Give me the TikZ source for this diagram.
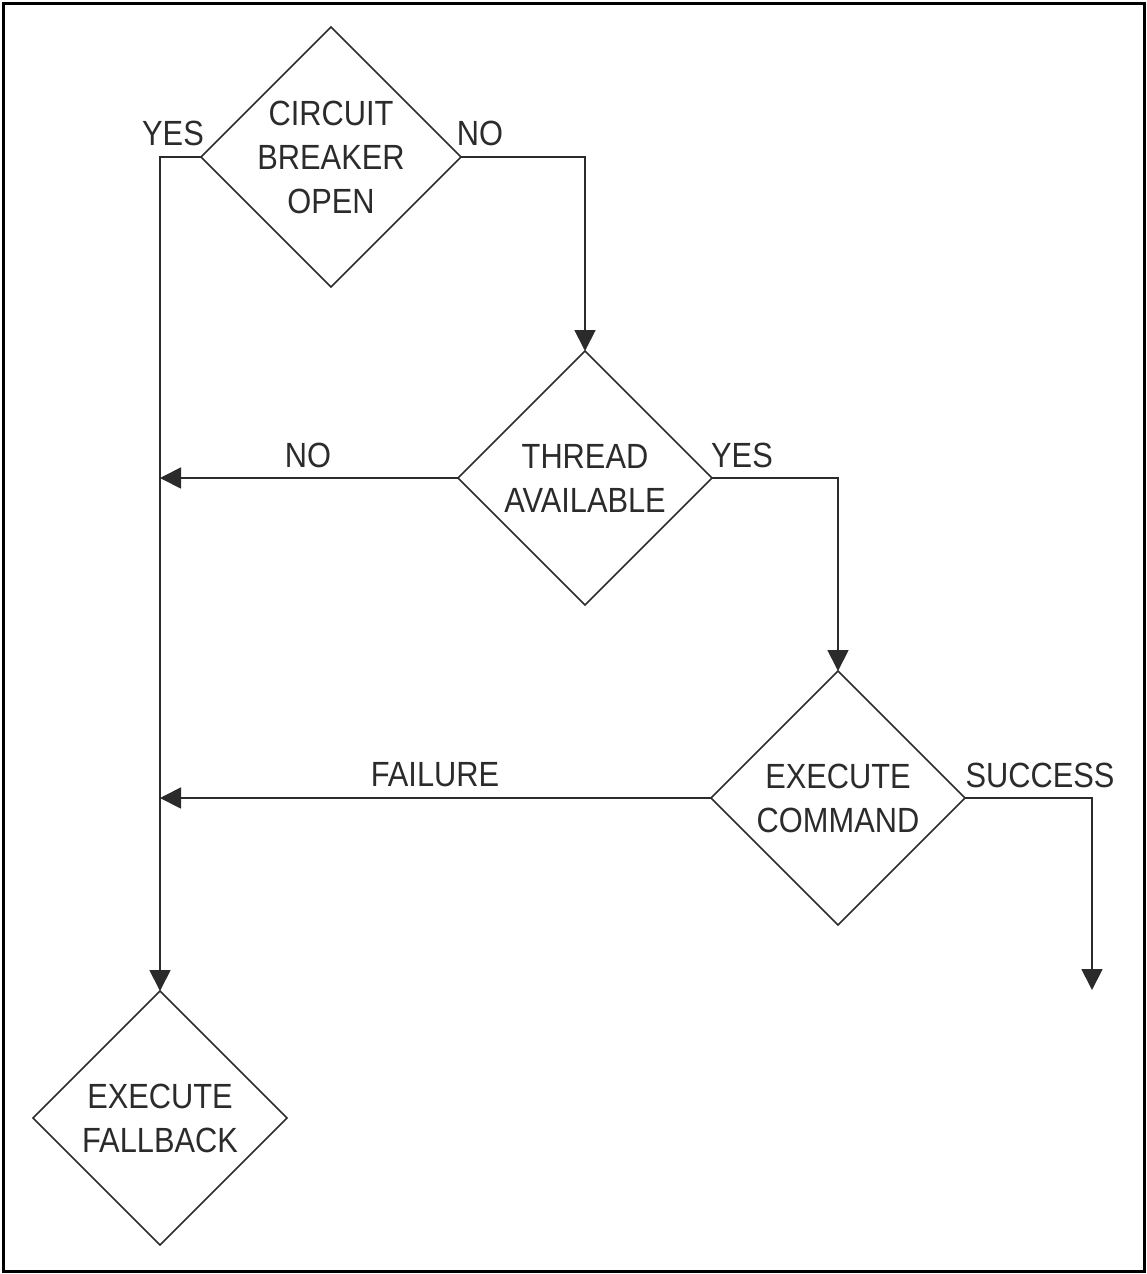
\documentclass[tikz,border=0pt]{standalone}
\usepackage{fontspec}
\setmainfont{Liberation Sans}[FakeStretch=0.88]
\usetikzlibrary{shapes.geometric,arrows.meta}
\definecolor{ink}{HTML}{2B2B2B}
\tikzset{
  decision/.style={diamond, aspect=1, draw=ink, line width=1.6pt, inner sep=0pt, outer sep=0pt,
    minimum width=254pt, minimum height=254pt, text=ink, align=center,
    font=\fontsize{35}{44}\selectfont},
  lbl/.style={text=ink, inner sep=0pt, font=\fontsize{35}{44}\selectfont},
  arr/.style={draw=ink, line width=1.8pt, -{Triangle[length=21pt,width=21pt]}},
  plain/.style={draw=ink, line width=1.8pt}
}
\begin{document}
\begin{tikzpicture}[x=1pt,y=-1pt]
\useasboundingbox (0,0) rectangle (1147,1274);
\draw[line width=3pt, black] (3,3) rectangle (1144,1271);

\node[decision] (d1) at (331,157) {CIRCUIT\\BREAKER\\OPEN};
\node[decision] (d2) at (585,478) {THREAD\\AVAILABLE};
\node[decision] (d3) at (838,798) {EXECUTE\\COMMAND};
\node[decision] (d4) at (160,1118) {EXECUTE\\FALLBACK};

\coordinate (send) at (1092,990);

\node[lbl] (l1) at (173,133) {YES};
\node[lbl] (l2) at (480,133) {NO};
\node[lbl] (l3) at (308,455) {NO};
\node[lbl] (l4) at (742,455) {YES};
\node[lbl] (l5) at (435,775) {FAILURE};
\node[lbl] (l6) at (1040,775) {SUCCESS};

\draw[arr] (d1.west) -| (d4.north);
\draw[arr] (d1.east) -| (d2.north);
\draw[arr] (d2.west) -- (d2.west -| d4.north);
\draw[arr] (d2.east) -| (d3.north);
\draw[arr] (d3.west) -- (d3.west -| d4.north);
\draw[arr] (d3.east) -| (send);
\end{tikzpicture}
\end{document}
